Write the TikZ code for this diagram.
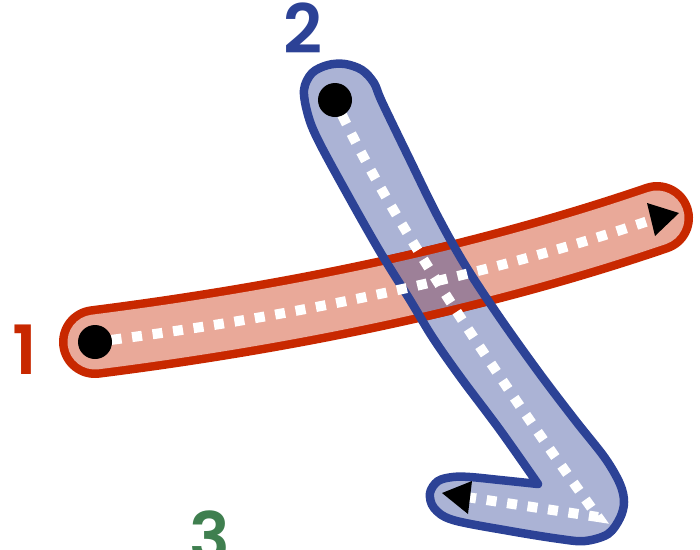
\documentclass[tikz,border=0pt]{standalone}
\usepackage{fontspec}
\newfontfamily\numfont{Poppins SemiBold}
\usetikzlibrary{calc}
\definecolor{redc}{RGB}{200,40,0}
\definecolor{bluec}{RGB}{44,66,150}
\definecolor{greenc}{RGB}{63,127,79}
\colorlet{redfill}{redc!40}
\colorlet{overlapfill}{bluec!40!redfill}
\begin{document}
\begin{tikzpicture}[x=1pt,y=-1pt,
  band/.style={line width=8.5pt, line join=round},
  redout/.style={draw=redc, line width=72pt, line cap=round},
  redin/.style={draw=redfill, line width=55pt, line cap=round},
  dots/.style={white, line width=10pt, dash pattern=on 10pt off 10.7pt, dash phase=4pt},
  numlabel/.style={font=\numfont\fontsize{68pt}{68pt}\selectfont, anchor=base, inner sep=0pt}]
\useasboundingbox (0,0) rectangle (700,549);
\clip (0,0) rectangle (700,549);

% centre lines
\coordinate (r0) at (95,342);
\coordinate (rc) at (411,302);
\coordinate (r1) at (657,218);
\coordinate (b0) at (335,100);
\coordinate (bc) at (399,240);
\coordinate (b1) at (598,517);
\coordinate (b2) at (470,497.5);

\def\redpath{(r0) .. controls ($(r0)!2/3!(rc)$) and ($(r1)!2/3!(rc)$) .. (r1)}
\def\bluepath{plot[smooth, tension=0.55] coordinates {
 (538,484) (500,480) (470,477) (453,477) (438,481) (430,493) (434,508) (453,520)
 (510,531) (560,539) (585,541) (608,534) (620,518) (624,502) (620,484) (605,458)
 (575,420) (540,374) (500,318) (465,265) (437,215) (410,160) (382,102) (374,83)
 (362,70) (345,64) (328,65) (312,73) (304,90) (308,115) (318,140) (345,190)
 (379,250) (410,300) (433,338) (461,378) (500,430) (538,484)} -- cycle}

% stroke 1 (red)
\draw[redout] \redpath;
\draw[redin] \redpath;

% stroke 2 (blue) fill
\fill[bluec, fill opacity=0.4] \bluepath;

% red outline above the blue fill, inside the blue stroke
\begin{scope}
  \clip \bluepath;
  \draw[redout] \redpath;
  \draw[redin, draw=overlapfill] \redpath;
\end{scope}

% blue outline
\draw[band, draw=bluec] \bluepath;

% dotted centre lines
\draw[dots] \redpath;
\draw[dots] (b0) .. controls ($(b0)!2/3!(bc)$) and ($(b1)!2/3!(bc)$) .. (b1) -- (b2);

% start dots
\fill[black] (r0) circle[radius=17];
\fill[black] (b0) circle[radius=17];

% arrow heads
\coordinate (ra1) at (647,203);
\coordinate (ra2) at (679,213);
\coordinate (ra3) at (655,236);
\coordinate (ba1) at (472,481);
\coordinate (ba2) at (442,493);
\coordinate (ba3) at (468,514);
\fill[black] (ra1) -- (ra2) -- (ra3) -- cycle;
\fill[black] (ba1) -- (ba2) -- (ba3) -- cycle;

% stroke numbers
\node[numlabel, text=redc] (n1) at (25,374) {1};
\node[numlabel, text=bluec] (n2) at (303,53) {2};
\node[numlabel, text=greenc] (n3) at (210,561) {3};
\end{tikzpicture}
\end{document}
